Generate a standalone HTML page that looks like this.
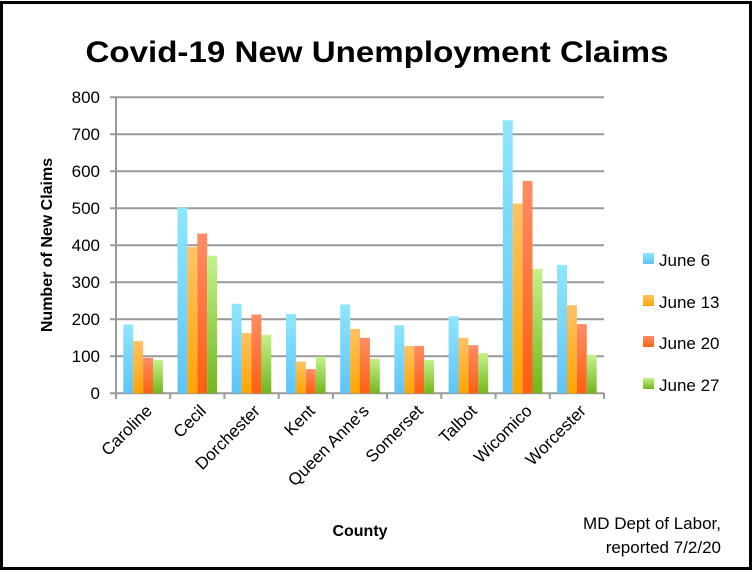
<!DOCTYPE html>
<html><head><style>html,body{margin:0;padding:0;background:#fff}svg{display:block}</style></head><body>
<svg width="755" height="574" viewBox="0 0 755 574" xmlns="http://www.w3.org/2000/svg" font-family="Liberation Sans, sans-serif">
<defs>
<linearGradient id="gb" x1="0" y1="0" x2="0" y2="1"><stop offset="0" stop-color="#8fe6fd"/><stop offset="1" stop-color="#5ec4f7"/></linearGradient>
<linearGradient id="go" x1="0" y1="0" x2="0" y2="1"><stop offset="0" stop-color="#ffc266"/><stop offset="1" stop-color="#ffa500"/></linearGradient>
<linearGradient id="gr" x1="0" y1="0" x2="0" y2="1"><stop offset="0" stop-color="#ff8c66"/><stop offset="1" stop-color="#ff6010"/></linearGradient>
<linearGradient id="gg" x1="0" y1="0" x2="0" y2="1"><stop offset="0" stop-color="#c4f28c"/><stop offset="1" stop-color="#72b61c"/></linearGradient>
</defs>
<rect x="1.5" y="2.5" width="749" height="566" fill="#fff" stroke="#000" stroke-width="3"/>
<text x="377" y="62" font-size="30" font-weight="bold" text-anchor="middle" textLength="583" lengthAdjust="spacingAndGlyphs">Covid-19 New Unemployment Claims</text>
<g stroke="#999" stroke-width="2">
<line x1="110" y1="97.3" x2="604" y2="97.3"/><line x1="110" y1="134.3" x2="604" y2="134.3"/><line x1="110" y1="171.3" x2="604" y2="171.3"/><line x1="110" y1="208.3" x2="604" y2="208.3"/><line x1="110" y1="245.3" x2="604" y2="245.3"/><line x1="110" y1="282.3" x2="604" y2="282.3"/><line x1="110" y1="319.3" x2="604" y2="319.3"/><line x1="110" y1="356.3" x2="604" y2="356.3"/><line x1="110" y1="393.3" x2="604" y2="393.3"/>
<line x1="116" y1="97" x2="116" y2="399"/>
<line x1="170.2" y1="393" x2="170.2" y2="399"/><line x1="224.4" y1="393" x2="224.4" y2="399"/><line x1="278.7" y1="393" x2="278.7" y2="399"/><line x1="332.9" y1="393" x2="332.9" y2="399"/><line x1="387.1" y1="393" x2="387.1" y2="399"/><line x1="441.3" y1="393" x2="441.3" y2="399"/><line x1="495.6" y1="393" x2="495.6" y2="399"/><line x1="549.8" y1="393" x2="549.8" y2="399"/><line x1="604" y1="393" x2="604" y2="399"/>
</g>
<g font-size="17" text-anchor="end">
<text x="100" y="103">800</text><text x="100" y="140">700</text><text x="100" y="177">600</text><text x="100" y="214">500</text><text x="100" y="251">400</text><text x="100" y="288">300</text><text x="100" y="325">200</text><text x="100" y="362">100</text><text x="100" y="399">0</text>
</g>
<text transform="translate(52,245) rotate(-90)" font-size="16" font-weight="bold" text-anchor="middle">Number of New Claims</text>
<g>
<rect x="123.3" y="324.5" width="9.9" height="68.8" fill="url(#gb)"/><rect x="133.2" y="341.1" width="9.9" height="52.2" fill="url(#go)"/><rect x="143.1" y="357.8" width="9.9" height="35.5" fill="url(#gr)"/><rect x="153.0" y="360.0" width="9.9" height="33.3" fill="url(#gg)"/>
<rect x="177.5" y="207.6" width="9.9" height="185.7" fill="url(#gb)"/><rect x="187.4" y="247.1" width="9.9" height="146.2" fill="url(#go)"/><rect x="197.3" y="233.5" width="9.9" height="159.8" fill="url(#gr)"/><rect x="207.2" y="255.7" width="9.9" height="137.6" fill="url(#gg)"/>
<rect x="231.7" y="303.8" width="9.9" height="89.5" fill="url(#gb)"/><rect x="241.6" y="333.0" width="9.9" height="60.3" fill="url(#go)"/><rect x="251.5" y="314.5" width="9.9" height="78.8" fill="url(#gr)"/><rect x="261.4" y="334.8" width="9.9" height="58.5" fill="url(#gg)"/>
<rect x="286.0" y="314.1" width="9.9" height="79.2" fill="url(#gb)"/><rect x="295.9" y="361.5" width="9.9" height="31.8" fill="url(#go)"/><rect x="305.8" y="369.2" width="9.9" height="24.1" fill="url(#gr)"/><rect x="315.7" y="356.7" width="9.9" height="36.6" fill="url(#gg)"/>
<rect x="340.2" y="304.5" width="9.9" height="88.8" fill="url(#gb)"/><rect x="350.1" y="328.9" width="9.9" height="64.4" fill="url(#go)"/><rect x="360.0" y="337.8" width="9.9" height="55.5" fill="url(#gr)"/><rect x="369.9" y="358.9" width="9.9" height="34.4" fill="url(#gg)"/>
<rect x="394.4" y="325.2" width="9.9" height="68.1" fill="url(#gb)"/><rect x="404.3" y="345.9" width="9.9" height="47.4" fill="url(#go)"/><rect x="414.2" y="345.9" width="9.9" height="47.4" fill="url(#gr)"/><rect x="424.1" y="360.0" width="9.9" height="33.3" fill="url(#gg)"/>
<rect x="448.6" y="316.3" width="9.9" height="77.0" fill="url(#gb)"/><rect x="458.5" y="337.8" width="9.9" height="55.5" fill="url(#go)"/><rect x="468.4" y="345.2" width="9.9" height="48.1" fill="url(#gr)"/><rect x="478.3" y="353.0" width="9.9" height="40.3" fill="url(#gg)"/>
<rect x="502.8" y="120.2" width="9.9" height="273.1" fill="url(#gb)"/><rect x="512.7" y="203.5" width="9.9" height="189.8" fill="url(#go)"/><rect x="522.6" y="180.9" width="9.9" height="212.4" fill="url(#gr)"/><rect x="532.5" y="269.0" width="9.9" height="124.3" fill="url(#gg)"/>
<rect x="557.1" y="264.9" width="9.9" height="128.4" fill="url(#gb)"/><rect x="567.0" y="305.2" width="9.9" height="88.1" fill="url(#go)"/><rect x="576.9" y="324.1" width="9.9" height="69.2" fill="url(#gr)"/><rect x="586.8" y="354.8" width="9.9" height="38.5" fill="url(#gg)"/>
</g>
<g font-size="17" text-anchor="end">
<text transform="translate(153,412) rotate(-45)">Caroline</text>
<text transform="translate(207,412) rotate(-45)">Cecil</text>
<text transform="translate(261,412) rotate(-45)">Dorchester</text>
<text transform="translate(316,412) rotate(-45)">Kent</text>
<text transform="translate(370,412) rotate(-45)">Queen Anne's</text>
<text transform="translate(424,412) rotate(-45)">Somerset</text>
<text transform="translate(478,412) rotate(-45)">Talbot</text>
<text transform="translate(533,412) rotate(-45)">Wicomico</text>
<text transform="translate(587,412) rotate(-45)">Worcester</text>
</g>
<text x="360" y="536" font-size="16" font-weight="bold" text-anchor="middle">County</text>
<g font-size="17">
<rect x="643" y="253" width="11" height="11" fill="url(#gb)"/><text x="659" y="266">June 6</text>
<rect x="643" y="295" width="11" height="11" fill="url(#go)"/><text x="659" y="308">June 13</text>
<rect x="643" y="336" width="11" height="11" fill="url(#gr)"/><text x="659" y="349">June 20</text>
<rect x="643" y="378" width="11" height="11" fill="url(#gg)"/><text x="659" y="391">June 27</text>
</g>
<g font-size="17" text-anchor="end">
<text x="721" y="529">MD Dept of Labor,</text>
<text x="721" y="553">reported 7/2/20</text>
</g>
</svg>
</body></html>
